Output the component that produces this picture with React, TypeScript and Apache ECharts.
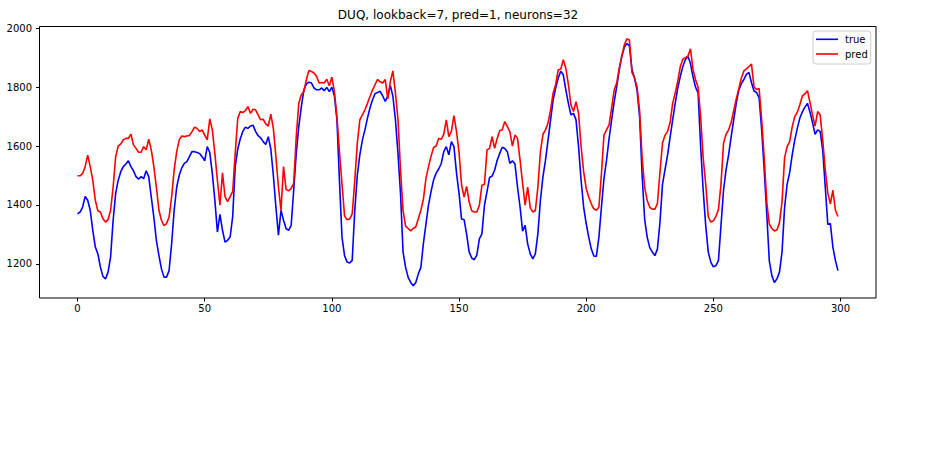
import React, { useEffect, useRef } from "react";
import * as echarts from "echarts";

const TITLE = "DUQ, lookback=7, pred=1, neurons=32";
const seriesNames = ["true", "pred"];
const seriesColors = ["#0000ff", "#ff0000"];
const xTicks = [0, 50, 100, 150, 200, 250, 300];
const yTicks = [1200, 1400, 1600, 1800, 2000];

const trueVals = [
  1370, 1376, 1393, 1429, 1416, 1382, 1314, 1257, 1234, 1189,
  1157, 1149, 1172, 1223, 1348, 1439, 1484, 1513, 1530, 1539,
  1550, 1530, 1516, 1496, 1488, 1496, 1489, 1516, 1496, 1427,
  1359, 1280, 1229, 1183, 1155, 1155, 1177, 1268, 1382, 1461,
  1501, 1526, 1541, 1547, 1564, 1581, 1581, 1578, 1575, 1564,
  1550, 1598, 1578, 1507, 1416, 1308, 1368, 1314, 1274, 1280,
  1291, 1360, 1530, 1590, 1625, 1650, 1664, 1660, 1668, 1671,
  1650, 1635, 1628, 1615, 1605, 1632, 1590, 1500, 1393, 1297,
  1382, 1348, 1320, 1314, 1331, 1450, 1575, 1666, 1734, 1791,
  1811, 1817, 1814, 1797, 1791, 1791, 1797, 1788, 1799, 1785,
  1800, 1770, 1690, 1480, 1290, 1228, 1206, 1203, 1212, 1380,
  1500, 1570, 1620, 1655, 1695, 1730, 1757, 1778, 1782, 1786,
  1770, 1752, 1770, 1805, 1769, 1689, 1575, 1439, 1240, 1188,
  1154, 1137, 1126, 1137, 1166, 1188, 1270, 1335, 1400, 1445,
  1485, 1508, 1522, 1540, 1581, 1598, 1570, 1615, 1598, 1510,
  1440, 1352, 1350, 1300, 1240, 1220, 1214, 1230, 1285, 1302,
  1399, 1445, 1493, 1498, 1518, 1552, 1575, 1596, 1592, 1581,
  1541, 1550, 1539, 1461, 1393, 1311, 1331, 1268, 1234, 1217,
  1234, 1302, 1416, 1496, 1552, 1620, 1689, 1757, 1797, 1831,
  1854, 1842, 1791, 1745, 1706, 1711, 1689, 1598, 1484, 1393,
  1337, 1291, 1251, 1227, 1225, 1291, 1393, 1490, 1552, 1625,
  1689, 1750, 1802, 1859, 1905, 1935, 1948, 1940, 1860, 1831,
  1790, 1700, 1500, 1350, 1290, 1255, 1240, 1228, 1250, 1340,
  1470, 1520, 1570, 1630, 1689, 1745, 1797, 1836, 1870, 1893,
  1905, 1880, 1835, 1800, 1780, 1600, 1450, 1330, 1240, 1206,
  1190, 1194, 1211, 1330, 1450, 1520, 1570, 1632, 1689, 1745,
  1790, 1812, 1826, 1843, 1850, 1815, 1787, 1782, 1763, 1655,
  1518, 1370, 1210, 1160, 1137, 1149, 1172, 1240, 1390, 1470,
  1510, 1570, 1620, 1660, 1695, 1716, 1732, 1745, 1715, 1680,
  1640, 1655, 1650, 1586, 1461, 1334, 1337, 1257, 1211, 1177,
];

const predVals = [
  1499, 1499, 1507, 1530, 1569, 1530, 1484, 1416, 1380, 1376,
  1353, 1342, 1350, 1382, 1461, 1564, 1600, 1607, 1621, 1626,
  1626, 1640, 1604, 1592, 1579, 1579, 1598, 1587, 1623, 1587,
  1530, 1461, 1382, 1348, 1330, 1337, 1359, 1427, 1519, 1581,
  1621, 1634, 1632, 1634, 1636, 1649, 1664, 1660, 1649, 1655,
  1637, 1621, 1692, 1655, 1575, 1484, 1399, 1509, 1428, 1411,
  1428, 1445, 1575, 1694, 1717, 1714, 1720, 1734, 1711, 1725,
  1723, 1706, 1689, 1691, 1675, 1668, 1708, 1660, 1564, 1461,
  1382, 1530, 1453, 1448, 1456, 1473, 1632, 1745, 1774, 1785,
  1827, 1857, 1853, 1848, 1836, 1814, 1816, 1814, 1827, 1805,
  1834, 1785, 1700, 1578, 1470, 1362, 1350, 1352, 1370, 1480,
  1610, 1689, 1706, 1723, 1745, 1768, 1791, 1809, 1826, 1818,
  1814, 1826, 1760, 1820, 1855, 1780, 1690, 1520, 1380, 1328,
  1320, 1312, 1320, 1326, 1353, 1382, 1420, 1490, 1530, 1565,
  1595, 1600, 1626, 1623, 1640, 1689, 1632, 1650, 1703, 1650,
  1580, 1467, 1427, 1463, 1410, 1380, 1376, 1376, 1399, 1467,
  1470, 1587, 1592, 1632, 1592, 1626, 1652, 1655, 1683, 1666,
  1649, 1600, 1638, 1626, 1552, 1473, 1399, 1461, 1391, 1376,
  1380, 1460, 1580, 1640, 1655, 1678, 1723, 1780, 1809, 1859,
  1861, 1893, 1864, 1809, 1740, 1717, 1751, 1711, 1598, 1513,
  1456, 1427, 1404, 1387, 1382, 1393, 1507, 1638, 1655, 1672,
  1729, 1790, 1814, 1865, 1905, 1944, 1964, 1960, 1850, 1831,
  1800, 1720, 1560, 1460, 1415, 1392, 1386, 1386, 1405, 1510,
  1610, 1637, 1650, 1680, 1745, 1780, 1820, 1870, 1895, 1900,
  1905, 1930, 1860, 1825, 1800, 1700, 1560, 1470, 1360, 1342,
  1346, 1361, 1385, 1470, 1610, 1640, 1655, 1680, 1720, 1760,
  1795, 1830, 1855, 1862, 1870, 1878, 1800, 1792, 1795, 1690,
  1560, 1410, 1335, 1320, 1312, 1315, 1340, 1410, 1560, 1598,
  1615, 1665, 1700, 1715, 1740, 1770, 1777, 1788, 1748, 1705,
  1668, 1717, 1706, 1620, 1520, 1440, 1404, 1450, 1382, 1361,
];

export default function App() {
  const ref = useRef<HTMLDivElement>(null);

  useEffect(() => {
    if (!ref.current) return;
    const chart = echarts.init(ref.current, null, { renderer: "svg" });
    const font = "DejaVu Sans";
    const n = trueVals.length;
    const all = trueVals.concat(predVals);
    const lo = Math.min(...all);
    const hi = Math.max(...all);
    const yPad = (hi - lo) * 0.05;
    const xPad = (n - 1) * 0.05;
    const valueSets = [trueVals, predVals];
    const plain = (v: number) => String(Math.round(v));

    chart.setOption({
      animation: false,
      backgroundColor: "#ffffff",
      title: {
        text: TITLE,
        left: 458,
        top: 9,
        textAlign: "center",
        padding: 0,
        textStyle: {
          fontFamily: font,
          fontSize: 12,
          fontWeight: "normal",
          color: "#000000",
        },
      },
      legend: {
        data: seriesNames,
        orient: "vertical",
        left: 813,
        top: 31,
        padding: [3.3, 3, 5, 3],
        itemGap: 4.7,
        itemWidth: 22,
        itemHeight: 1.6,
        icon: "rect",
        backgroundColor: "rgba(255,255,255,0.8)",
        borderColor: "#cccccc",
        borderWidth: 1,
        borderRadius: 3,
        textStyle: {
          fontFamily: font,
          fontSize: 10,
          color: "#000000",
          lineHeight: 10,
          padding: [0, 0, 0, 2],
        },
      },
      grid: {
        left: 39.5,
        top: 26.5,
        right: 54,
        bottom: 162,
        show: true,
        borderColor: "#000000",
        borderWidth: 1,
        backgroundColor: "transparent",
      },
      xAxis: {
        type: "value",
        min: -xPad,
        max: n - 1 + xPad,
        splitLine: { show: false },
        axisLine: { show: false, onZero: false },
        axisTick: {
          show: true,
          inside: false,
          length: 3.5,
          customValues: xTicks,
          lineStyle: { color: "#000000", width: 1 },
        },
        axisLabel: {
          customValues: xTicks,
          formatter: plain,
          fontFamily: font,
          fontSize: 10,
          color: "#000000",
          margin: 5,
        },
      },
      yAxis: {
        type: "value",
        min: lo - yPad,
        max: hi + yPad,
        splitLine: { show: false },
        axisLine: { show: false, onZero: false },
        axisTick: {
          show: true,
          inside: false,
          length: 3.5,
          customValues: yTicks,
          lineStyle: { color: "#000000", width: 1 },
        },
        axisLabel: {
          customValues: yTicks,
          formatter: plain,
          fontFamily: font,
          fontSize: 10,
          color: "#000000",
          margin: 7.5,
        },
      },
      series: seriesNames.map((name, s) => ({
        name,
        type: "line",
        data: valueSets[s].map((v, i) => [i, v]),
        showSymbol: false,
        symbol: "none",
        lineStyle: { width: 1.6, color: seriesColors[s] },
        itemStyle: { color: seriesColors[s] },
        z: 2 + s,
      })),
    });

    return () => {
      chart.dispose();
    };
  }, []);

  return (
    <div
      ref={ref}
      style={{ position: "absolute", left: 0, top: 0, width: 930, height: 460 }}
    />
  );
}
